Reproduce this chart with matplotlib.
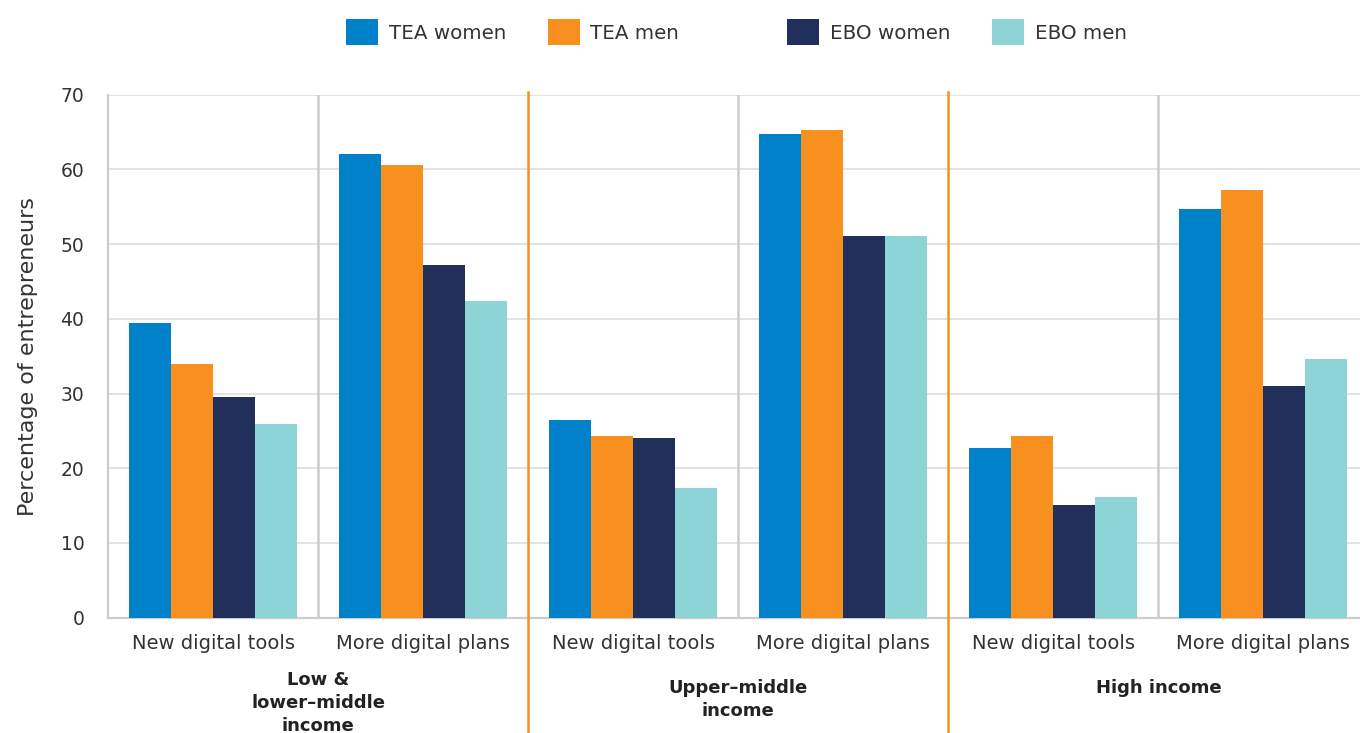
import matplotlib
matplotlib.use("Agg")
import matplotlib.pyplot as plt
import matplotlib.transforms as mtransforms
from matplotlib.patches import Patch
import numpy as np

plt.rcParams['font.family'] = ['DejaVu Sans']

groups = ["Low &\nlower\u2013middle\nincome", "Upper\u2013middle\nincome", "High income"]
subcats = ["New digital tools", "More digital plans"]
series = ["TEA women", "TEA men", "EBO women", "EBO men"]
colors = ["#0081C9", "#F7901E", "#21305A", "#8DD4D6"]

tea_women = [39.5, 62.1, 26.5, 64.7, 22.7, 54.7]
tea_men = [33.9, 60.6, 24.3, 65.3, 24.3, 57.2]
ebo_women = [29.6, 47.2, 24.0, 51.1, 15.1, 31.0]
ebo_men = [25.9, 42.4, 17.3, 51.1, 16.1, 34.6]
values = [tea_women, tea_men, ebo_women, ebo_men]

yticks = [0, 10, 20, 30, 40, 50, 60, 70]
text_color = "#333333"

fig = plt.figure(figsize=(13.6, 7.33), dpi=100)
ax = fig.add_axes([108/1360, (733-617.7)/733, (1360-108)/1360, (617.7-94.7)/733])

n = len(tea_women)
x = np.arange(n)
w = 0.2
for i, (vals, c, lab) in enumerate(zip(values, colors, series)):
    ax.bar(x + (i - 1.5) * w, vals, width=w, color=c, label=lab, zorder=3)

ax.set_xlim(-0.5, 5.46)
ax.set_ylim(0, 70)
ax.set_yticks(yticks)
ax.set_yticklabels([str(v) for v in yticks], fontsize=13.5, color=text_color)
ax.tick_params(axis='y', length=0, pad=17)
ax.tick_params(axis='x', length=0, pad=12)
ax.set_xticks(x)
ax.set_xticklabels(subcats * 3, fontsize=14, color=text_color)
ax.yaxis.grid(True, color="#dddddd", linewidth=1.2, zorder=0)
ax.set_axisbelow(True)

for s in ['top', 'right']:
    ax.spines[s].set_visible(False)
for s in ['left', 'bottom']:
    ax.spines[s].set_color("#cccccc")
    ax.spines[s].set_linewidth(1.6)

# gray separators between sub-categories
for xv in [0.5, 2.5, 4.5]:
    ax.axvline(xv, color="#cccccc", linewidth=1.8, zorder=1)

# orange separators between income groups
trans = mtransforms.blended_transform_factory(ax.transData, ax.transAxes)
for xv in [1.5, 3.5]:
    ax.plot([xv, xv], [-0.225, 1.006], transform=trans, color="#F7901E",
            linewidth=1.8, clip_on=False, zorder=4)

# group labels
group_top = [-0.102, -0.117, -0.117]
for gi, g in enumerate(groups):
    ax.text(gi * 2 + 0.5, group_top[gi], g, transform=trans, ha='center', va='top',
            fontsize=13, fontweight='bold', color="#222222", linespacing=1.35)

ax.set_ylabel("Percentage of entrepreneurs", fontsize=16, color=text_color, labelpad=16)

# legends (two groups)
handles = [Patch(facecolor=c, edgecolor='none') for c in colors]
common = dict(loc='center left', ncol=2, frameon=False, fontsize=14.3,
              handlelength=1.6, handleheight=1.6, handletextpad=0.55,
              columnspacing=2.1, labelcolor=text_color, borderaxespad=0,
              borderpad=0)
fig.legend(handles[:2], series[:2], bbox_to_anchor=(346/1360, 1 - 32/733), **common)
fig.legend(handles[2:], series[2:], bbox_to_anchor=(787/1360, 1 - 32/733), **common)

fig.savefig("out.png", dpi=100)
